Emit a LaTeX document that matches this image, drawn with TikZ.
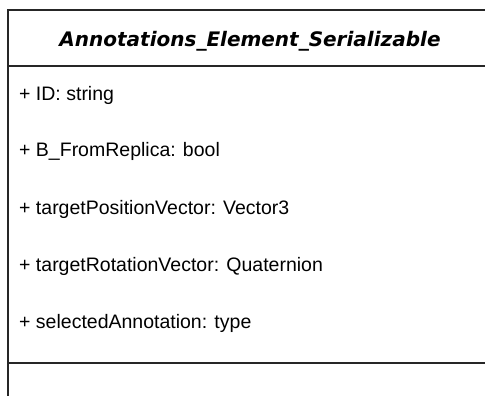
\documentclass[tikz,border=0pt]{standalone}
\usepackage{fontspec}
\setmainfont{Liberation Sans}
\newfontfamily\titlefont{DejaVu Sans}
\usetikzlibrary{positioning}

\begin{document}
\begin{tikzpicture}[x=1pt,y=-1pt,
    boxline/.style={line width=1.8pt,black!85},
    attr/.style={anchor=base west,inner sep=0pt,font=\fontsize{19.5}{22}\selectfont}]
            \useasboundingbox (0,0) rectangle (485,396);
            \clip (0,0) rectangle (485,396);
            \fill[white] (0,0) rectangle (485,396);
            \draw[boxline] (494,10) -- (8,10) -- (8,420); %枠
            \draw[boxline] (8,66) -- (494,66); %クラス名の下
            \draw[boxline] (8,363) -- (494,363); %属性の下
            \node[anchor=base,inner sep=0pt,font=\titlefont\bfseries\itshape\fontsize{20}{24}\selectfont] (title) at (250,47) {Annotations\_Element\_Serializable};
            \node[attr] (id) at (19,100) {+ ID: string};
            \node[attr] (replica) at (19,157) {+ B\_FromReplica: bool};
            \node[attr] (pos) at (19,214) {+ targetPositionVector: Vector3};
            \node[attr] (rot) at (19,271) {+ targetRotationVector: Quaternion};
            \node[attr] (sel) at (19,328) {+ selectedAnnotation: type};
        \end{tikzpicture}
\end{document}
